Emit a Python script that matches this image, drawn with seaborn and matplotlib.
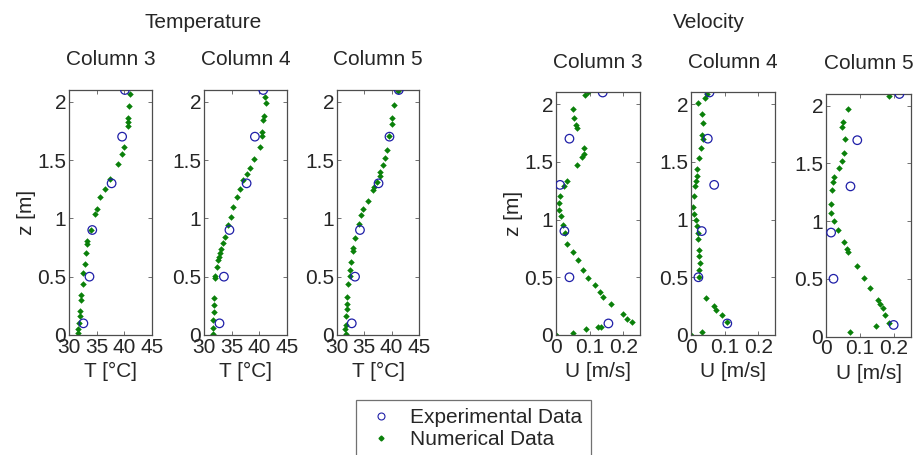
import numpy as np
import pandas as pd
import matplotlib
matplotlib.use("Agg")
import matplotlib.pyplot as plt
from matplotlib.lines import Line2D
import seaborn as sns

# Measurement heights (experimental)
z_exp = [0.1, 0.5, 0.9, 1.3, 1.7, 2.1]

# Temperature, experimental [°C]
T3_exp = [32.6, 33.7, 34.2, 37.7, 39.6, 40.1]
T4_exp = [32.8, 33.6, 34.6, 37.7, 39.2, 40.7]
T5_exp = [32.7, 33.3, 34.2, 37.6, 39.6, 41.3]

# Velocity, experimental [m/s]
U3_exp = [0.156, 0.040, 0.025, 0.012, 0.040, 0.139]
U4_exp = [0.108, 0.022, 0.032, 0.069, 0.050, 0.055]
U5_exp = [0.199, 0.022, 0.015, 0.072, 0.092, 0.216]

# Temperature, numerical
z_T3 = [0.02, 0.05, 0.10, 0.16, 0.21, 0.30, 0.34, 0.44, 0.53, 0.61, 0.70, 0.78, 0.81,
        0.90, 1.04, 1.08, 1.18, 1.25, 1.34, 1.47, 1.55, 1.61, 1.79, 1.83, 1.86, 1.96, 2.07]
T3_num = [31.7, 31.7, 31.8, 31.9, 32.0, 32.2, 32.2, 32.5, 32.6, 32.9, 33.1, 33.3, 33.3,
          33.9, 34.7, 35.0, 35.6, 36.5, 37.4, 38.9, 39.5, 39.9, 40.6, 40.6, 40.6, 40.8, 41.1]

z_T4 = [0.01, 0.06, 0.13, 0.20, 0.26, 0.32, 0.49, 0.51, 0.58, 0.64, 0.67, 0.70, 0.74, 0.79,
        0.84, 0.94, 1.01, 1.10, 1.18, 1.25, 1.33, 1.38, 1.43, 1.51, 1.61, 1.71, 1.74,
        1.84, 1.88, 1.99, 2.04]
T4_num = [31.7, 31.7, 31.7, 31.8, 31.8, 31.8, 32.0, 32.0, 32.3, 32.6, 32.7, 32.9, 33.1, 33.4,
          33.8, 34.4, 34.8, 35.3, 36.0, 36.5, 37.1, 37.7, 38.3, 39.1, 40.1, 40.4, 40.5,
          40.7, 40.9, 41.2, 41.1]

z_T5 = [0.01, 0.05, 0.09, 0.16, 0.22, 0.27, 0.33, 0.44, 0.51, 0.56, 0.63, 0.72, 0.75, 0.83,
        0.95, 1.03, 1.08, 1.15, 1.24, 1.27, 1.31, 1.36, 1.40, 1.46, 1.52, 1.59, 1.71, 1.81,
        1.86, 1.97, 2.09]
T5_num = [31.6, 31.5, 31.7, 31.7, 31.9, 31.9, 31.9, 32.1, 32.3, 32.4, 32.5, 32.9, 33.0, 33.3,
          34.1, 34.3, 34.8, 35.7, 36.6, 36.8, 37.3, 37.8, 37.9, 38.4, 38.8, 39.2, 39.6, 40.0,
          40.1, 40.4, 41.1]

# Velocity, numerical
z_U3 = [0.0, 0.02, 0.05, 0.07, 0.07, 0.11, 0.14, 0.18, 0.27, 0.33, 0.37, 0.43, 0.49, 0.56,
        0.65, 0.72, 0.79, 0.88, 0.95, 1.03, 1.08, 1.14, 1.20, 1.29, 1.33, 1.47, 1.54, 1.57,
        1.62, 1.79, 1.82, 1.88, 1.96, 2.08, 2.1]
U3_num = [0.0, 0.050, 0.089, 0.126, 0.133, 0.225, 0.210, 0.198, 0.163, 0.141, 0.131, 0.116,
          0.096, 0.081, 0.065, 0.052, 0.034, 0.027, 0.020, 0.014, 0.010, 0.0075, 0.012, 0.025,
          0.032, 0.062, 0.078, 0.082, 0.084, 0.062, 0.060, 0.054, 0.050, 0.086, 0.096]

z_U4 = [0.0, 0.03, 0.11, 0.17, 0.22, 0.25, 0.32, 0.50, 0.56, 0.62, 0.68, 0.74, 0.83, 0.88,
        0.94, 1.00, 1.05, 1.11, 1.20, 1.29, 1.33, 1.38, 1.44, 1.53, 1.62, 1.70, 1.73, 1.84,
        1.91, 2.01, 2.05, 2.09]
U4_num = [0.0, 0.034, 0.107, 0.092, 0.075, 0.067, 0.045, 0.025, 0.025, 0.027, 0.025, 0.025,
          0.022, 0.022, 0.019, 0.015, 0.009, 0.007, 0.009, 0.012, 0.015, 0.017, 0.019, 0.025,
          0.029, 0.035, 0.032, 0.037, 0.032, 0.022, 0.042, 0.047]

z_U5 = [0.04, 0.09, 0.12, 0.19, 0.25, 0.28, 0.32, 0.42, 0.51, 0.61, 0.73, 0.76, 0.82, 0.92,
        1.00, 1.07, 1.15, 1.27, 1.34, 1.38, 1.46, 1.52, 1.59, 1.71, 1.81, 1.86, 1.97, 2.08]
U5_num = [0.070, 0.146, 0.186, 0.173, 0.167, 0.160, 0.153, 0.129, 0.111, 0.092, 0.066, 0.062,
          0.052, 0.034, 0.024, 0.014, 0.014, 0.017, 0.020, 0.024, 0.037, 0.047, 0.052, 0.055,
          0.047, 0.050, 0.064, 0.186]

col_titles = ["Column 3", "Column 4", "Column 5"]

sns.set_style("ticks")
plt.rcParams["font.family"] = ["Liberation Sans", "DejaVu Sans"]
plt.rcParams["font.size"] = 15
plt.rcParams["xtick.direction"] = "in"
plt.rcParams["ytick.direction"] = "in"

W, H = 915, 455
fig = plt.figure(figsize=(W / 100, H / 100), dpi=100)

exp_color = "#1f1fa8"
num_color = "#0a800a"

# pixel boxes: left, right, top, bottom
boxes = [(69, 152, 90, 335), (204, 287, 90, 335), (337, 419, 90, 335),
         (556, 640, 92.5, 335), (691, 775, 92.5, 335), (826, 911, 94, 336.5)]

panels = [
    (T3_exp, z_T3, T3_num), (T4_exp, z_T4, T4_num), (T5_exp, z_T5, T5_num),
    (U3_exp, z_U3, U3_num), (U4_exp, z_U4, U4_num), (U5_exp, z_U5, U5_num),
]

for i, ((xe, zn, xn), (l, r, t, b)) in enumerate(zip(panels, boxes)):
    ax = fig.add_axes([l / W, 1 - b / H, (r - l) / W, (b - t) / H])
    df_num = pd.DataFrame({"x": xn, "z": zn})
    df_exp = pd.DataFrame({"x": xe, "z": z_exp})
    sns.scatterplot(data=df_num, x="x", y="z", ax=ax, marker="D", s=11,
                    color=num_color, linewidth=0, legend=False, zorder=2)
    sns.scatterplot(data=df_exp, x="x", y="z", ax=ax, marker="o", s=38,
                    facecolor="none", edgecolor=exp_color, linewidth=0.9,
                    legend=False, zorder=3)
    ax.set_ylim(0, 2.1)
    ax.set_yticks([0, 0.5, 1, 1.5, 2])
    ax.set_yticklabels(["0", "0.5", "1", "1.5", "2"])
    if i < 3:
        ax.set_xlim(30, 45)
        ax.set_xticks([30, 35, 40, 45])
        ax.set_xticklabels(["30", "35", "40", "45"])
        ax.set_xlabel("T [°C]", labelpad=4)
    else:
        ax.set_xlim(0, 0.25)
        ax.set_xticks([0, 0.1, 0.2])
        ax.set_xticklabels(["0", "0.1", "0.2"])
        ax.set_xlabel("U [m/s]", labelpad=4)
    if i in (0, 3):
        ax.set_ylabel("z [m]", labelpad=1)
    else:
        ax.set_ylabel("")
    ax.set_title(col_titles[i % 3], pad=18, fontsize=15)
    ax.tick_params(top=True, right=True, length=3, width=0.6, pad=2,
                   labelsize=15, color="0.35")
    for sp in ax.spines.values():
        sp.set_color("0.3")
        sp.set_linewidth(0.9)

fig.text(203 / W, 1 - 28 / H, "Temperature", ha="center", va="baseline", fontsize=15)
fig.text(709 / W, 1 - 28 / H, "Velocity", ha="center", va="baseline", fontsize=15)

handles = [
    Line2D([], [], linestyle="none", marker="o", markersize=5, markerfacecolor="none",
           markeredgecolor=exp_color, markeredgewidth=0.8),
    Line2D([], [], linestyle="none", marker="D", markersize=2.5, color=num_color),
]
leg = fig.legend(handles, ["Experimental Data", "Numerical Data"], loc="upper left",
                 bbox_to_anchor=(356 / W, 1 - 400 / H), borderaxespad=0, fontsize=15,
                 frameon=True, fancybox=False, borderpad=0.4, labelspacing=0.15,
                 handlelength=1.6, handletextpad=0.6)
leg.get_frame().set_edgecolor("0.3")
leg.get_frame().set_linewidth(0.9)

fig.savefig("out.png", dpi=100, facecolor="white")
